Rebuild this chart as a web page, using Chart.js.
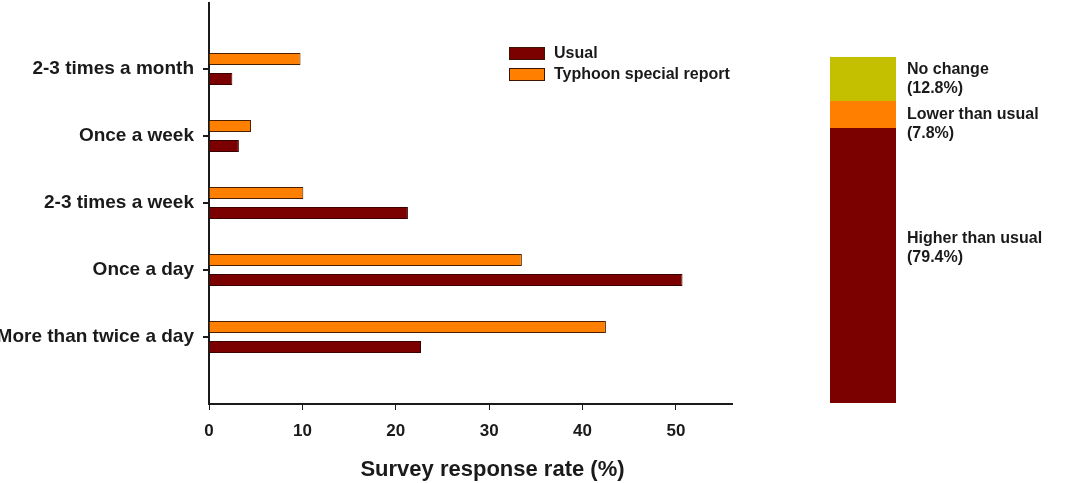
<!DOCTYPE html>
<html>
<head>
<meta charset="utf-8">
<script src="https://cdn.jsdelivr.net/npm/chart.js@4.4.1/dist/chart.umd.min.js"></script>
<style>
  body { margin: 0; background: #fff; width: 1071px; height: 483px; overflow: hidden; position: relative; font-family: "Liberation Sans", Arial, sans-serif; }
  #wrap1 { position: absolute; left: 0; top: 2px; width: 745px; height: 481px; }
  #wrap2 { position: absolute; left: 820px; top: 0; width: 251px; height: 483px; }
  .legend { position: absolute; left: 509px; font-size: 16px; font-weight: bold; color: #1a1a1a; line-height: 18px; }
  .legend span { display: inline-block; width: 34px; height: 11px; border: 1px solid #3a1400; vertical-align: -2px; margin-right: 9px; }
</style>
</head>
<body>
<div id="wrap1"><canvas id="chart1"></canvas></div>
<div id="wrap2"><canvas id="chart2"></canvas></div>
<div class="legend" style="top:44px"><span style="background:#7b0000"></span>Usual</div>
<div class="legend" style="top:65px"><span style="background:#ff8000"></span>Typhoon special report</div>
<script>
const categories = ['', '2-3 times a month', 'Once a week', '2-3 times a week', 'Once a day', 'More than twice a day', ''];
const typhoonValues = [null, 9.8, 4.5, 10.1, 33.5, 42.5, null];
const usualValues = [null, 2.5, 3.2, 21.3, 50.7, 22.7, null];

const changeLabels = ['Higher than usual', 'Lower than usual', 'No change'];
const changeValues = [79.4, 7.8, 12.8];
const changeColors = ['#7b0000', '#ff8000', '#c4c000'];

const ink = '#1a1a1a';
const font = "'Liberation Sans', Arial, sans-serif";

const ctx1 = document.getElementById('chart1').getContext('2d');
new Chart(ctx1, {
    type: 'bar',
    data: {
        labels: categories,
        datasets: [{
            label: 'Typhoon special report',
            data: typhoonValues,
            backgroundColor: '#ff8000',
            borderColor: '#4a2000',
            borderWidth: 1
        }, {
            label: 'Usual',
            data: usualValues,
            backgroundColor: '#7b0000',
            borderColor: '#3a0000',
            borderWidth: 1
        }]
    },
    options: {
        indexAxis: 'y',
        responsive: true,
        maintainAspectRatio: false,
        animation: false,
        layout: { padding: { top: 0, right: 13, left: 0, bottom: 0 } },
        plugins: {
            legend: { display: false },
            tooltip: { enabled: false }
        },
        datasets: { bar: { categoryPercentage: 0.594, barPercentage: 0.6 } },
        scales: {
            y: {
                offset: false,
                afterFit: s => { s.width = 209; s.paddingTop = 0; s.paddingBottom = 0; },
                border: { color: ink, width: 2 },
                grid: {
                    offset: false,
                    drawOnChartArea: false,
                    tickLength: 6,
                    lineWidth: 2,
                    color: c => (c.index === 0 || c.index === categories.length - 1) ? 'rgba(0,0,0,0)' : ink
                },
                ticks: { padding: 9, color: ink, font: { family: font, size: 19, weight: 'bold' } }
            },
            x: {
                min: 0,
                max: 56,
                afterBuildTicks: s => { s.ticks = s.ticks.filter(t => t.value % 10 === 0); },
                afterFit: s => { s.height = 79; s.paddingRight = 0; s.paddingLeft = 0; },
                border: { color: ink, width: 2 },
                grid: { drawOnChartArea: false, tickLength: 6, lineWidth: 1, color: ink },
                ticks: { stepSize: 10, padding: 11, color: ink, font: { family: font, size: 17, weight: 'bold' } },
                title: {
                    display: true,
                    text: '\u2003\u2003Survey response rate (%)',
                    color: ink,
                    padding: { top: 4, bottom: 0 },
                    font: { family: font, size: 22, weight: 'bold' }
                }
            }
        }
    }
});

const segmentLabels = {
    id: 'segmentLabels',
    afterDatasetsDraw(chart) {
        const c = chart.ctx;
        c.save();
        c.fillStyle = ink;
        c.font = "bold 16px " + font;
        c.textBaseline = 'middle';
        chart.data.datasets.forEach((ds, i) => {
            const bar = chart.getDatasetMeta(i).data[0];
            const top = Math.min(bar.y, bar.base);
            const h = Math.abs(bar.base - bar.y);
            const y = h > 100 ? top + 0.4 * h : top + 13;
            const x = bar.x + bar.width / 2 + 11;
            c.fillText(ds.label, x, y);
            c.fillText('(' + ds.data[0] + '%)', x, y + 19);
        });
        c.restore();
    }
};

const ctx2 = document.getElementById('chart2').getContext('2d');
new Chart(ctx2, {
    type: 'bar',
    data: {
        labels: [''],
        datasets: changeLabels.map((label, i) => ({
            label: label,
            data: [changeValues[i]],
            backgroundColor: changeColors[i],
            borderWidth: 0,
            categoryPercentage: 1,
            barPercentage: 1
        }))
    },
    options: {
        responsive: true,
        maintainAspectRatio: false,
        animation: false,
        layout: { padding: { top: 57, bottom: 80, left: 10, right: 175 } },
        plugins: { legend: { display: false }, tooltip: { enabled: false } },
        scales: {
            x: { stacked: true, display: false },
            y: { stacked: true, display: false, min: 0, max: 100 }
        }
    },
    plugins: [segmentLabels]
});
</script>
</body>
</html>
